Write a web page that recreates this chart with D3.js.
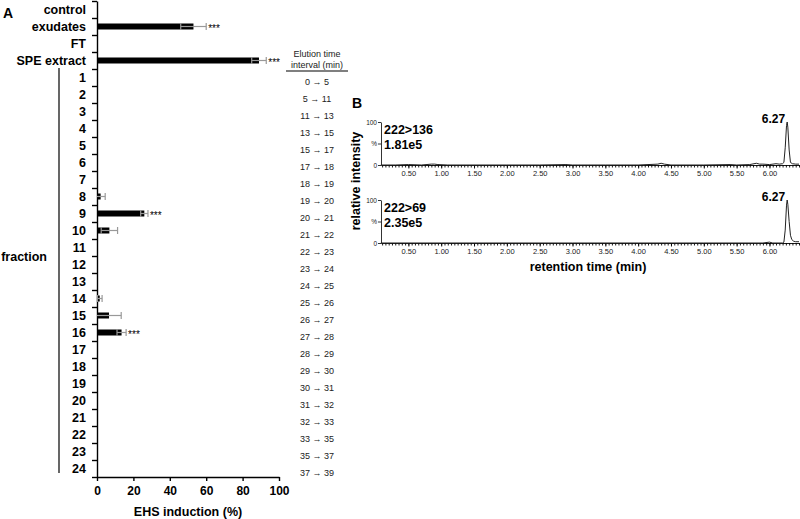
<!DOCTYPE html>
<html>
<head>
<meta charset="utf-8">
<script src="https://cdn.jsdelivr.net/npm/d3@7"></script>
<style>
  body { margin: 0; background: #fff; }
  text { font-family: "Liberation Sans", Arial, sans-serif; }
</style>
</head>
<body>
<svg id="chart" width="800" height="519"></svg>
<script>
// panel A data
const categories = ["control", "exudates", "FT", "SPE extract",
  "1", "2", "3", "4", "5", "6", "7", "8", "9", "10", "11", "12",
  "13", "14", "15", "16", "17", "18", "19", "20", "21", "22", "23", "24"];
const induction = [0, 53, 0, 89,
  0, 0, 0, 0, 0, 0, 0, 2, 26, 6.8, 0, 0,
  0, 1.5, 6.6, 13.5, 0, 0, 0, 0, 0, 0, 0, 0];
const inductionSd = [0, 7, 0, 4,
  0, 0, 0, 0, 0, 0, 0, 2.5, 2, 4.5, 0, 0,
  0, 1.3, 6.7, 2.5, 0, 0, 0, 0, 0, 0, 0, 0];
const significant = ["exudates", "SPE extract", "9", "16"];
const elution = ["0 → 5", "5 → 11", "11 → 13", "13 → 15", "15 → 17", "17 → 18",
  "18 → 19", "19 → 20", "20 → 21", "21 → 22", "22 → 23", "23 → 24",
  "24 → 25", "25 → 26", "26 → 27", "27 → 28", "28 → 29", "29 → 30",
  "30 → 31", "31 → 32", "32 → 33", "33 → 35", "35 → 37", "37 → 39"];
const xTicksA = [0, 20, 40, 60, 80, 100];

// panel B data (chromatograms)
const time136 = [0.08, 0.3, 0.5, 0.7, 0.85, 0.9, 0.95, 1.1, 1.5, 2.0, 2.5, 2.9, 3.0, 3.5, 4.0, 4.3, 4.35, 4.4, 4.5,
  5.0, 5.4, 5.5, 5.7, 5.8, 5.85, 5.9, 6.0, 6.1, 6.15, 6.2, 6.22, 6.24, 6.26, 6.27, 6.28, 6.3, 6.32, 6.35, 6.4, 6.45];
const int136 = [0, 0, 1, 0, 2, 2, 1, 0, 0, 0, 0, 1, 0, 0, 0, 2, 4, 2, 0,
  0, 1, 0, 1, 4, 2, 2, 1, 3, 2, 3, 6, 40, 92, 100, 88, 35, 6, 3, 2, 2];
const time69 = [0.08, 1.0, 2.0, 3.0, 4.0, 5.0, 5.9, 6.0, 6.05, 6.1, 6.2, 6.22, 6.24, 6.26, 6.27, 6.28,
  6.3, 6.32, 6.34, 6.37, 6.4, 6.45];
const int69 = [0, 0, 0, 0, 0, 0, 0, 2, 0, 0, 0, 2, 30, 88, 100, 90, 50, 18, 8, 4, 3, 3];
const traces = [
  { label: "222>136", scale: "1.81e5", peak: "6.27", time: time136, value: int136 },
  { label: "222>69", scale: "2.35e5", peak: "6.27", time: time69, value: int69 }
];
const timeTickLabels = [0.5, 1.0, 1.5, 2.0, 2.5, 3.0, 3.5, 4.0, 4.5, 5.0, 5.5, 6.0];

const svg = d3.select("#chart");

// ---------- panel A ----------
const x = d3.scaleLinear().domain([0, 100]).range([97, 279]);
const y = d3.scaleBand().domain(categories).range([1, 477]);
const yIdx = d3.scaleLinear().domain([0, categories.length]).range([1, 477]);

svg.append("text").attr("x", 3).attr("y", 18)
  .style("font-size", "14px").style("font-weight", "bold").text("A");

const gA = svg.append("g");

gA.append("g")
  .attr("transform", "translate(97,0)")
  .call(d3.axisLeft(yIdx).tickValues(d3.range(categories.length + 1)).tickFormat("").tickSize(5).tickSizeOuter(0))
  .call(g => g.selectAll("path, line").attr("stroke", "#000").attr("stroke-width", 1.4));

gA.append("g")
  .attr("transform", "translate(0,477)")
  .call(d3.axisBottom(x).tickValues(xTicksA).tickSize(4).tickSizeOuter(0).tickPadding(5))
  .call(g => g.selectAll("path, line").attr("stroke", "#000").attr("stroke-width", 1.4))
  .call(g => g.selectAll("text").style("font-size", "12px").style("font-weight", "bold")
    .style("font-family", "'Liberation Sans', Arial, sans-serif").attr("fill", "#000"));

gA.selectAll(".cat")
  .data(categories)
  .enter().append("text")
  .attr("class", "cat")
  .attr("x", 86)
  .attr("y", d => y(d) + y.bandwidth() / 2 + 4.5)
  .attr("text-anchor", "end")
  .style("font-size", "12.5px").style("font-weight", "bold")
  .text(d => d);

const rows = categories.map((c, i) => ({ c, v: induction[i], sd: inductionSd[i] }));
const barH = 6;

gA.selectAll(".bar")
  .data(rows.filter(d => d.v > 0))
  .enter().append("rect")
  .attr("class", "bar")
  .attr("x", x(0))
  .attr("y", d => y(d.c) + y.bandwidth() / 2 - barH / 2)
  .attr("width", d => x(d.v) - x(0))
  .attr("height", barH)
  .attr("fill", "#000");

const err = gA.selectAll(".err")
  .data(rows.filter(d => d.sd > 0))
  .enter().append("g")
  .attr("class", "err")
  .attr("transform", d => `translate(0,${y(d.c) + y.bandwidth() / 2})`)
  .attr("stroke", "#999").attr("stroke-width", 1.2);
err.append("line")
  .attr("x1", d => x(Math.max(0, d.v - d.sd))).attr("x2", d => x(d.v + d.sd));
err.append("line")
  .attr("x1", d => x(d.v + d.sd)).attr("x2", d => x(d.v + d.sd)).attr("y1", -3.5).attr("y2", 3.5);
err.filter(d => d.v - d.sd > 0).append("line")
  .attr("x1", d => x(d.v - d.sd)).attr("x2", d => x(d.v - d.sd)).attr("y1", -3.5).attr("y2", 3.5);

gA.selectAll(".star")
  .data(rows.filter(d => significant.includes(d.c)))
  .enter().append("text")
  .attr("class", "star")
  .attr("x", d => x(d.v + d.sd) + 2)
  .attr("y", d => y(d.c) + y.bandwidth() / 2 + 5)
  .attr("fill", "#000")
  .style("font-size", "10px")
  .text("***");

// fraction bracket
gA.append("line")
  .attr("x1", 59).attr("x2", 59)
  .attr("y1", y("1") - 1).attr("y2", y("24") + y.bandwidth() - 4)
  .attr("stroke", "#000").attr("stroke-width", 1.2);
gA.append("text")
  .attr("x", 47).attr("y", (y("11") + y("12")) / 2 + y.bandwidth() / 2 + 4.5)
  .attr("text-anchor", "end")
  .style("font-size", "12.5px").style("font-weight", "bold")
  .text("fraction");

// elution time table
const colX = 317;
gA.append("text").attr("x", colX).attr("y", 57).attr("text-anchor", "middle")
  .style("font-size", "9px").attr("fill", "#222").text("Elution time");
gA.append("text").attr("x", colX).attr("y", 68).attr("text-anchor", "middle")
  .style("font-size", "9px").attr("fill", "#222").text("interval (min)");
gA.append("line").attr("x1", 286).attr("x2", 348).attr("y1", 71).attr("y2", 71)
  .attr("stroke", "#000").attr("stroke-width", 1.2);
gA.selectAll(".elu")
  .data(elution)
  .enter().append("text")
  .attr("class", "elu")
  .attr("x", colX)
  .attr("y", (d, i) => y(String(i + 1)) + y.bandwidth() / 2 + 7)
  .attr("text-anchor", "middle")
  .style("font-size", "9px").attr("fill", "#222")
  .text(d => d);

svg.append("text")
  .attr("x", (x(0) + x(100)) / 2).attr("y", 516)
  .attr("text-anchor", "middle")
  .style("font-size", "12.5px").style("font-weight", "bold")
  .text("EHS induction (%)");

// ---------- panel B ----------
svg.append("text").attr("x", 352).attr("y", 108)
  .style("font-size", "14px").style("font-weight", "bold").text("B");

const t = d3.scaleLinear().domain([0.083, 6.45]).range([381, 799]);
const panelTops = [122, 200];
const panelH = 43;
const minorTicks = d3.range(0.1, 6.451, 0.05).map(v => +v.toFixed(2));

traces.forEach((tr, k) => {
  const top = panelTops[k];
  const yi = d3.scaleLinear().domain([0, 100]).range([top + panelH, top]);
  const g = svg.append("g");

  g.append("g")
    .attr("transform", `translate(0,${top + panelH})`)
    .call(d3.axisBottom(t).tickValues(minorTicks).tickFormat("").tickSize(2.5).tickSizeOuter(0))
    .call(a => a.selectAll("path, line").attr("stroke", "#000").attr("stroke-width", 0.9));
  g.append("g")
    .attr("transform", `translate(0,${top + panelH})`)
    .call(d3.axisBottom(t).tickValues(timeTickLabels).tickFormat(d3.format(".2f")).tickSize(3.5).tickPadding(2).tickSizeOuter(0))
    .call(a => a.select("path").remove())
    .call(a => a.selectAll("line").attr("stroke", "#000").attr("stroke-width", 0.9))
    .call(a => a.selectAll("text").style("font-size", "7.5px")
      .style("font-family", "'Liberation Sans', Arial, sans-serif").attr("fill", "#222"));

  g.append("g")
    .attr("transform", "translate(381,0)")
    .call(d3.axisLeft(yi).tickValues([0, 50, 100]).tickFormat(d => d === 50 ? "%" : d).tickSize(3).tickPadding(1).tickSizeOuter(0))
    .call(a => a.selectAll("path, line").attr("stroke", "#000").attr("stroke-width", 0.8))
    .call(a => a.selectAll("text").style("font-size", "6.5px")
      .style("font-family", "'Liberation Sans', Arial, sans-serif").attr("fill", "#222"));

  const pts = tr.time.map((v, i) => [v, tr.value[i]]);
  g.append("path")
    .datum(pts)
    .attr("fill", "none")
    .attr("stroke", "#222")
    .attr("stroke-width", 1)
    .attr("d", d3.line().x(d => t(d[0])).y(d => yi(d[1])));

  g.append("text").attr("x", 384).attr("y", top + 12)
    .style("font-size", "12.5px").style("font-weight", "bold").text(tr.label);
  g.append("text").attr("x", 384).attr("y", top + 27)
    .style("font-size", "12.5px").style("font-weight", "bold").text(tr.scale);
  g.append("text").attr("x", t(6.27) - 2).attr("y", yi(100) + 1)
    .attr("text-anchor", "end")
    .style("font-size", "12px").style("font-weight", "bold").text(tr.peak);
});

svg.append("text")
  .attr("transform", "translate(360,181) rotate(-90)")
  .attr("text-anchor", "middle")
  .style("font-size", "12.5px").style("font-weight", "bold")
  .text("relative intensity");

svg.append("text")
  .attr("x", 588).attr("y", 271)
  .attr("text-anchor", "middle")
  .style("font-size", "12.5px").style("font-weight", "bold")
  .text("retention time (min)");
</script>
</body>
</html>
